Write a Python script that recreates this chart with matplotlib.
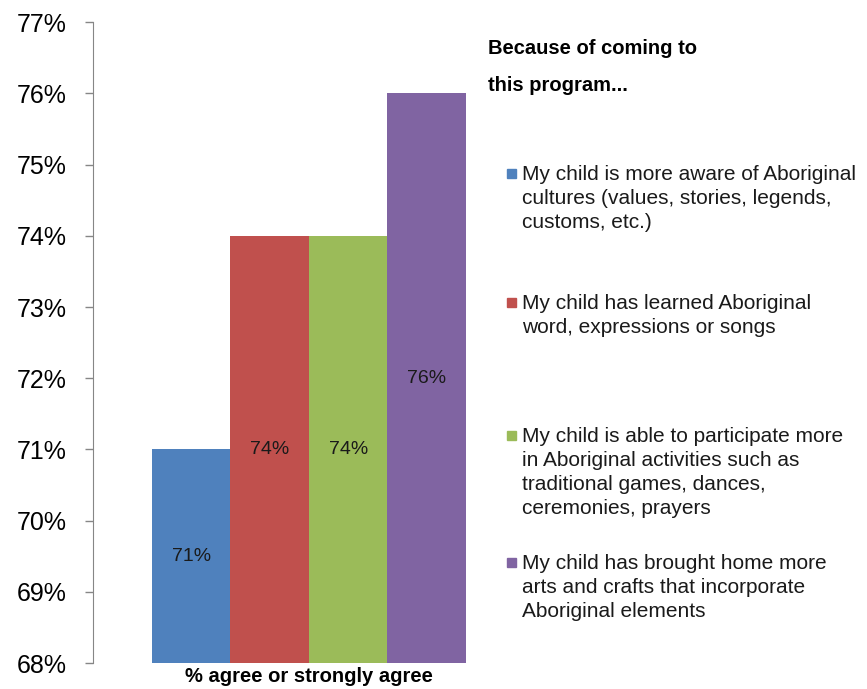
import matplotlib.pyplot as plt
from matplotlib.patches import Rectangle

# ── Survey results: share agreeing with each statement ──────────────────────
statements = [
    "My child is more aware of Aboriginal\ncultures (values, stories, legends,\ncustoms, etc.)",
    "My child has learned Aboriginal\nword, expressions or songs",
    "My child is able to participate more\nin Aboriginal activities such as\ntraditional games, dances,\nceremonies, prayers",
    "My child has brought home more\narts and crafts that incorporate\nAboriginal elements",
]
values = [71, 74, 74, 76]
category = "% agree or strongly agree"
yticks = list(range(68, 78))

colors = ["#4F81BD", "#C0504D", "#9BBB59", "#8064A2"]
legend_y = [0.749, 0.562, 0.369, 0.184]   # centre of first line of each entry (fig coords)

plt.rcParams["font.family"] = ["Liberation Sans", "DejaVu Sans"]

fig = plt.figure(figsize=(8.67, 6.89), dpi=100)
ax = fig.add_axes([0.1073, 0.0377, 0.498, 0.930])

width = 0.1817
base = yticks[0]
for i, (v, c) in enumerate(zip(values, colors)):
    x = (i - 1.5) * width
    ax.bar(x, v - base, bottom=base, width=width, color=c, edgecolor="none")
    ax.text(x, base + (v - base) / 2, f"{v}%", ha="center", va="center",
            fontsize=14, color="#1a1a1a")

ax.set_xlim(-0.5, 0.5)
ax.set_ylim(yticks[0], yticks[-1])
ax.set_yticks(yticks)
ax.set_yticklabels([f"{t}%" for t in yticks], fontsize=18)
ax.set_xticks([0])
ax.set_xticklabels([category], fontsize=14.5, fontweight="bold")
ax.tick_params(axis="x", length=0, pad=3)
ax.tick_params(axis="y", direction="out", length=6, width=1, color="#868686", pad=13)

for side in ["top", "right", "bottom"]:
    ax.spines[side].set_visible(False)
ax.spines["left"].set_color("#868686")

# legend heading
fig.text(0.563, 0.944, "Because of coming to\nthis program...", ha="left", va="top",
         fontsize=14.5, fontweight="bold", linespacing=2.2)

# legend entries, drawn by hand to keep the uneven spacing
for label, c, y in zip(statements, colors, legend_y):
    fig.patches.append(Rectangle((0.585, y - 0.0075), 0.0104, 0.013,
                                 transform=fig.transFigure, color=c))
    fig.text(0.602, y + 0.0115, label, ha="left", va="top", fontsize=15,
             linespacing=1.33, color="#1a1a1a")

fig.savefig("out.png", dpi=100)
